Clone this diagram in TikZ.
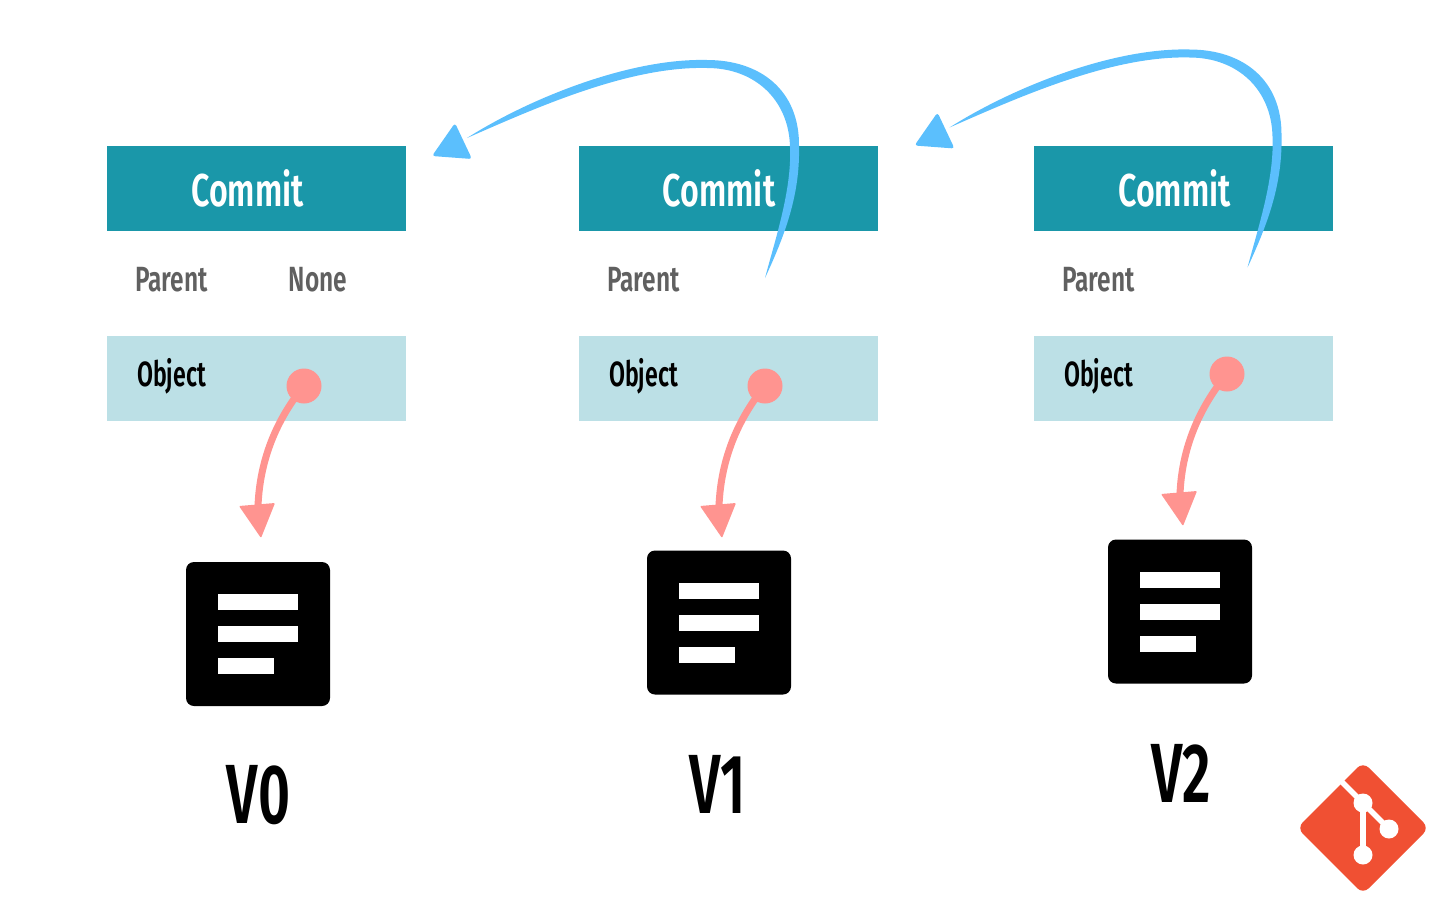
\documentclass[tikz,border=0pt]{standalone}
\usepackage{fontspec}
\newfontfamily\din[FakeStretch=0.70]{Fira Sans SemiBold}
\newfontfamily\dinb[FakeStretch=0.66]{Fira Sans SemiBold}
\definecolor{teal}{HTML}{1A97A9}
\definecolor{lightteal}{HTML}{BCE0E6}
\definecolor{bluearrow}{HTML}{5BBFFD}
\definecolor{redarrow}{HTML}{FF9490}
\definecolor{gitred}{HTML}{F05033}
\definecolor{gtext}{HTML}{606060}
\tikzset{
  commitbox/.style={fill=teal,minimum width=299pt,minimum height=85pt,inner sep=0pt,anchor=north west},
  objectbox/.style={fill=lightteal,minimum width=299pt,minimum height=85pt,inner sep=0pt,anchor=north west},
  committext/.style={text=white,font=\din\fontsize{46}{46}\selectfont,inner sep=0pt},
  parenttext/.style={text=gtext,font=\din\fontsize{35}{35}\selectfont,inner sep=0pt},
  objecttext/.style={text=black,font=\dinb\fontsize{35}{35}\selectfont,inner sep=0pt},
  vertext/.style={text=black,font=\dinb\fontsize{84}{84}\selectfont,inner sep=0pt},
  ball/.style={circle,fill=redarrow,minimum size=35pt,inner sep=0pt},
  pics/docicon/.style={code={
    \fill[black,rounded corners=8pt] (0,0) rectangle (144,144);
    \fill[white] (32,32) rectangle (112,48);
    \fill[white] (32,64) rectangle (112,80);
    \fill[white] (32,96) rectangle (88,112);
  }},
  pics/bluecurve/.style={code={
    \fill[bluearrow] (467,138) .. controls (530,98) and (630,58) .. (707,60)
       .. controls (760,60) and (800,90) .. (799,147)
       .. controls (800,195) and (785,235) .. (765,278)
       .. controls (775,240) and (792,190) .. (790,147)
       .. controls (789,100) and (755,68) .. (707,68)
       .. controls (630,66) and (540,106) .. cycle;
    \fill[bluearrow,rounded corners=3pt] (432,156) -- (455,123) -- (472,159) -- cycle;
  }},
}
\begin{document}
\begin{tikzpicture}[x=1pt,y=-1pt]
\useasboundingbox (0,0) rectangle (1440,900);
% boxes
\node[commitbox] (c0) at (107,146) {};
\node[commitbox] (c1) at (579,146) {};
\node[commitbox] (c2) at (1034,146) {};
\node[objectbox] (o0) at (107,335.5) {};
\node[objectbox] (o1) at (579,335.5) {};
\node[objectbox] (o2) at (1034,335.5) {};
% texts
\node[committext] (tc0) at (247.5,188) {Commit};
\node[committext] (tc1) at (719,188) {Commit};
\node[committext] (tc2) at (1174.5,188) {Commit};
\node[parenttext] (p0) at (171.5,280) {Parent};
\node[parenttext] (n0) at (318,280) {None};
\node[parenttext] (p1) at (643.5,280) {Parent};
\node[parenttext] (p2) at (1098.5,280) {Parent};
\node[objecttext] (ot0) at (171.5,376.5) {Object};
\node[objecttext] (ot1) at (643.5,376.5) {Object};
\node[objecttext] (ot2) at (1098.5,376.5) {Object};
% doc icons
\pic at (186,562) {docicon};
\pic at (647,550.5) {docicon};
\pic at (1108,539.5) {docicon};
\node[vertext] (v0) at (258.5,795) {V0};
\node[vertext] (v1) at (717.5,784) {V1};
\node[vertext] (v2) at (1181,773) {V2};
% blue arrows
\pic at (0,0) {bluecurve};
\pic at (482.5,-10.5) {bluecurve};
% red arrows
\node[ball] (b0) at (304,386) {};
\node[ball] (b1) at (765,386) {};
\node[ball] (b2) at (1227,374) {};
\coordinate (t0) at (258,506);
\coordinate (t1) at (719,506);
\coordinate (t2) at (1180,494);
\foreach \b/\t in {b0/t0,b1/t1,b2/t2}{
  \draw[redarrow,line width=7pt] (\b.center) .. controls ([shift={(-24,29)}]\b.center) and ([shift={(2,-51)}]\t) .. (\t);
  \fill[redarrow,rounded corners=1pt] ([shift={(-19,0)}]\t) -- ([shift={(17,-3)}]\t) -- ([shift={(3,32)}]\t) -- cycle;
}
% git logo
\begin{scope}[shift={(1363,828)}]
  \fill[gitred,rounded corners=8pt] (-66,0) -- (0,-66) -- (66,0) -- (0,66) -- cycle;
  \draw[white,line width=5.5pt] (-24,-49) -- (0,-25) -- (26,1);
  \draw[white,line width=5.5pt] (0,-25) -- (0,27);
  \fill[white] (0,-25) circle (9.5pt) (26,1) circle (9.5pt) (0,27) circle (9.5pt);
\end{scope}
\end{tikzpicture}
\end{document}
